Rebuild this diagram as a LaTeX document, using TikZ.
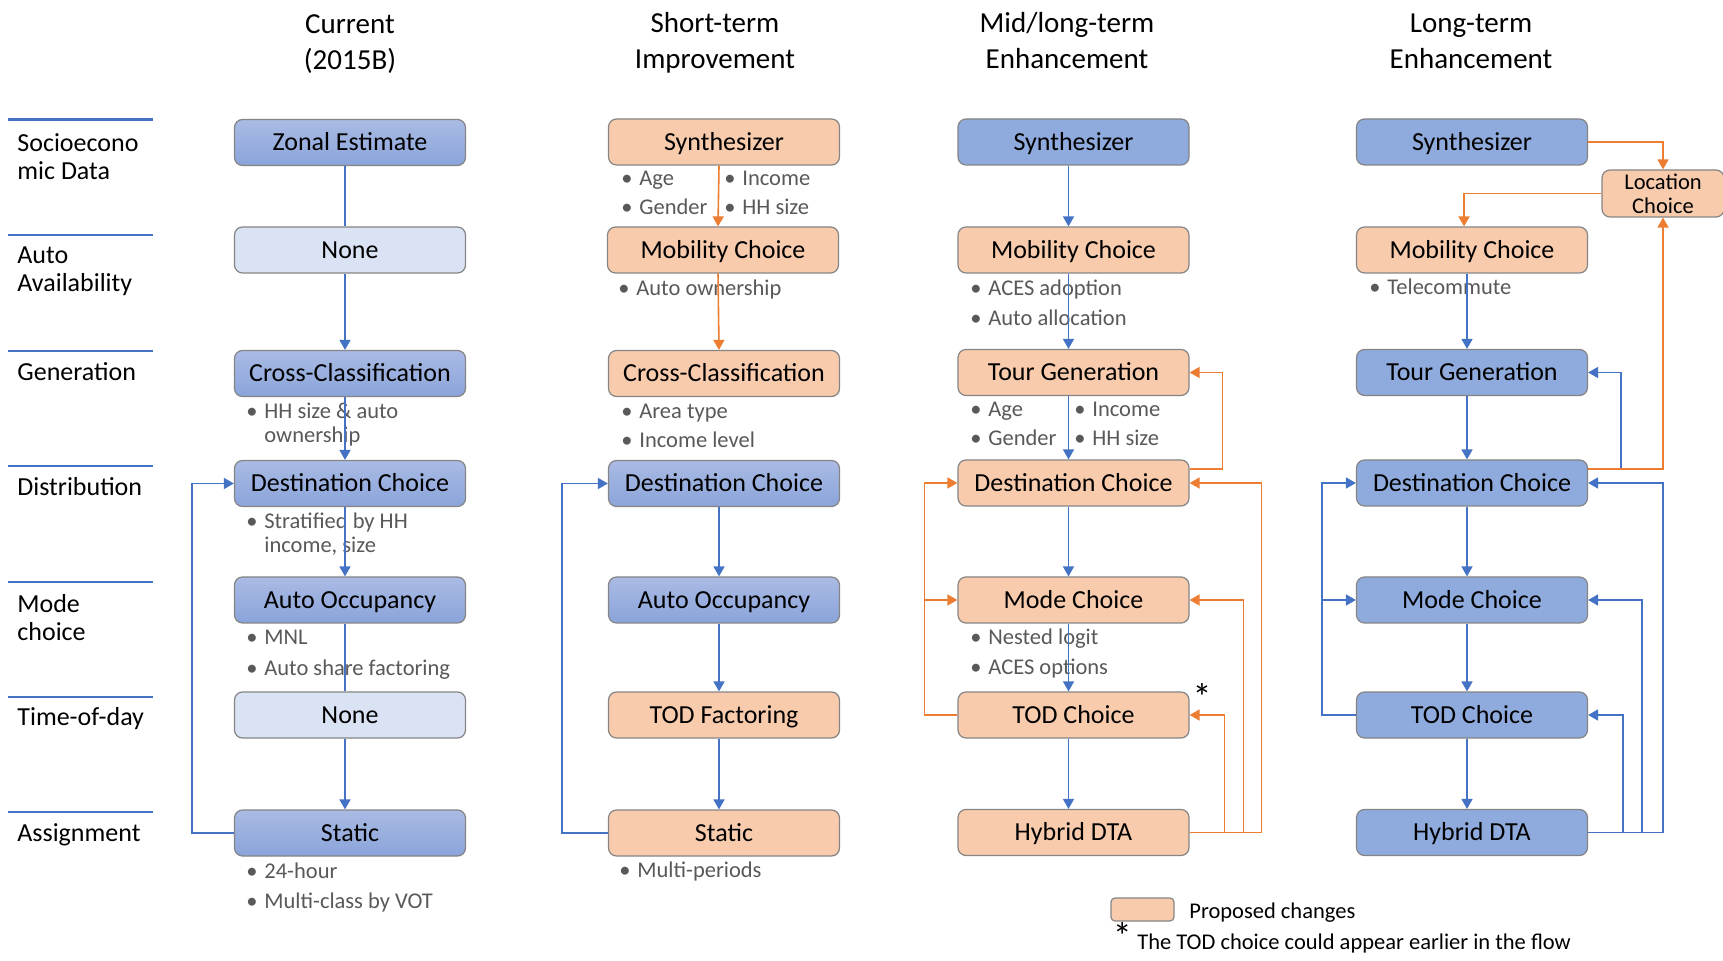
\documentclass[tikz,border=0pt]{standalone}
\usepackage{fontspec}
\setmainfont{Carlito}
\usetikzlibrary{arrows.meta,calc}
\definecolor{lnblue}{HTML}{4472C4}
\definecolor{lnorange}{HTML}{ED7D31}
\definecolor{fillblue}{HTML}{8FAADC}
\definecolor{fillorange}{HTML}{F8CBAD}
\definecolor{fillnone}{HTML}{DAE3F3}
\definecolor{gradtop}{HTML}{AABBE4}
\definecolor{gradbot}{HTML}{8AA4DA}
\definecolor{edge}{HTML}{858585}
\definecolor{bultext}{HTML}{595959}
\newcommand{\blt}[1]{\makebox[9pt][l]{\textbullet}#1}
\newcommand{\vlink}[3]{\draw[#1] ([xshift=-2.5pt]#2.south) -- ([xshift=-2.5pt]#3.north);}
\begin{document}
\begin{tikzpicture}[x=0.5pt,y=-0.5pt,
  box/.style={rectangle, rounded corners=4pt, draw=edge, line width=0.6pt,
    minimum width=115.5pt, minimum height=23pt, inner sep=0pt,
    font=\fontsize{13}{15}\selectfont, text height=8.4pt, text depth=0pt},
  bluebox/.style={box, fill=fillblue},
  gradbox/.style={box, top color=gradtop, bottom color=gradbot},
  orangebox/.style={box, fill=fillorange},
  nonebox/.style={box, fill=fillnone},
  bul/.style={anchor=west, inner sep=0pt, font=\fontsize{11.25}{13}\selectfont,
    text=bultext, text height=7.2pt, text depth=0pt},
  hdr/.style={align=center, inner sep=0pt, font=\fontsize{14.5}{18}\selectfont},
  rowlab/.style={anchor=west, inner sep=0pt, font=\fontsize{13}{14}\selectfont,
    text height=8.4pt, text depth=0pt},
  rowlabtwo/.style={anchor=west, align=left, inner sep=0pt, font=\fontsize{13}{14}\selectfont},
  sepline/.style={lnblue, line width=1.2pt},
  bline/.style={lnblue, line width=0.8pt},
  oline/.style={lnorange, line width=0.8pt},
  barrow/.style={bline, -{Triangle[width=5.5pt,length=5pt]}},
  oarrow/.style={oline, -{Triangle[width=5.5pt,length=5pt]}},
  star/.style={anchor=base, inner sep=0pt, font=\fontsize{19}{21}\selectfont}
]
\fill[white] (0,0) rectangle (1723,961);
\useasboundingbox (0,0) rectangle (1723,961);

% column headings
\node[hdr] (h1) at (350,44) {Current\\(2015B)};
\node[hdr] (h2) at (715,43) {Short-term\\Improvement};
\node[hdr] (h3) at (1067,41) {Mid/long-term\\Enhancement};
\node[hdr] (h4) at (1471,41) {Long-term\\Enhancement};

% row separators and labels
\foreach \yy in {119.5,235,351,466,582,697,812}
  \draw[sepline] (8,\yy) -- (153,\yy);
\node[rowlabtwo] (l1) at (17,157) {Socioecono\\mic Data};
\node[rowlabtwo] (l2) at (17,271.5) {Auto\\Availability};
\node[rowlab] (l3) at (17,372) {Generation};
\node[rowlab] (l4) at (17,487) {Distribution};
\node[rowlabtwo] (l5) at (17,618) {Mode\\choice};
\node[rowlab] (l6) at (17,717) {Time-of-day};
\node[rowlab] (l7) at (17,833.5) {Assignment};

% column 1: current model
\node[gradbox] (zo1) at (350,142.5) {Zonal Estimate};
\node[nonebox] (na1) at (350,250) {None};
\node[gradbox] (cc1) at (350,373.5) {Cross-Classification};
\node[gradbox] (dc1) at (350,483.5) {Destination Choice};
\node[gradbox] (ao1) at (350,600) {Auto Occupancy};
\node[nonebox] (tn1) at (350,715) {None};
\node[gradbox] (st1) at (350,833) {Static};

% column 2: short-term improvement
\node[orangebox] (sy2) at (724,142) {Synthesizer};
\node[orangebox] (mc2) at (723,250) {Mobility Choice};
\node[orangebox] (cc2) at (724,373.5) {Cross-Classification};
\node[gradbox] (dc2) at (724,483.5) {Destination Choice};
\node[gradbox] (ao2) at (724,600) {Auto Occupancy};
\node[orangebox] (tf2) at (724,715) {TOD Factoring};
\node[orangebox] (st2) at (724,833) {Static};

% column 3: mid/long-term enhancement
\node[bluebox] (sy3) at (1073.5,142) {Synthesizer};
\node[orangebox] (mb3) at (1073.5,250) {Mobility Choice};
\node[orangebox] (tg3) at (1073.5,372.5) {Tour Generation};
\node[orangebox] (dc3) at (1073.5,483) {Destination Choice};
\node[orangebox] (md3) at (1073.5,600) {Mode Choice};
\node[orangebox] (td3) at (1073.5,715) {TOD Choice};
\node[orangebox] (hy3) at (1073.5,832.5) {Hybrid DTA};
\node[star] (st3) at (1202,711) {*};

% column 4: long-term enhancement
\node[bluebox] (sy4) at (1472,142) {Synthesizer};
\node[box, fill=fillorange, minimum width=61pt, minimum height=23.5pt, align=center,
  font=\fontsize{11.25}{12}\selectfont, text height=, text depth=] (loc) at (1663,193.5) {Location\\Choice};
\node[orangebox] (mb4) at (1472,250) {Mobility Choice};
\node[bluebox] (tg4) at (1472,372.5) {Tour Generation};
\node[bluebox] (dc4) at (1472,483) {Destination Choice};
\node[bluebox] (md4) at (1472,600) {Mode Choice};
\node[bluebox] (td4) at (1472,715) {TOD Choice};
\node[bluebox] (hy4) at (1472,832.5) {Hybrid DTA};

% attribute bullets
\node[bul] (b1) at (246,411) {\blt{HH size \& auto}};
\node[bul] (b2) at (264,435) {ownership};
\node[bul] (b3) at (246,521) {\blt{Stratified by HH}};
\node[bul] (b4) at (264,545) {income, size};
\node[bul] (b5) at (246,637) {\blt{MNL}};
\node[bul] (b6) at (246,668) {\blt{Auto share factoring}};
\node[bul] (b7) at (246,871) {\blt{24-hour}};
\node[bul] (b8) at (246,901) {\blt{Multi-class by VOT}};

\node[bul] (b9) at (621,178) {\blt{Age}};
\node[bul] (b10) at (621,207) {\blt{Gender}};
\node[bul] (b11) at (724,178) {\blt{Income}};
\node[bul] (b12) at (724,207) {\blt{HH size}};
\node[bul] (b13) at (618,288) {\blt{Auto ownership}};
\node[bul] (b14) at (621,411) {\blt{Area type}};
\node[bul] (b15) at (621,440) {\blt{Income level}};
\node[bul] (b16) at (619,870) {\blt{Multi-periods}};

\node[bul] (b17) at (970,288) {\blt{ACES adoption}};
\node[bul] (b18) at (970,318) {\blt{Auto allocation}};
\node[bul] (b19) at (970,409) {\blt{Age}};
\node[bul] (b20) at (970,438) {\blt{Gender}};
\node[bul] (b21) at (1074,409) {\blt{Income}};
\node[bul] (b22) at (1074,438) {\blt{HH size}};
\node[bul] (b23) at (970,637) {\blt{Nested logit}};
\node[bul] (b24) at (970,667) {\blt{ACES options}};

\node[bul] (b25) at (1369,287) {\blt{Telecommute}};

% column 1 flow
\vlink{bline}{zo1}{na1}
\vlink{barrow}{na1}{cc1}
\vlink{barrow}{cc1}{dc1}
\vlink{barrow}{dc1}{ao1}
\vlink{bline}{ao1}{tn1}
\vlink{barrow}{tn1}{st1}
\draw[barrow] (st1.west) -- ++(-42,0) |- (dc1.west);

% column 2 flow
\vlink{oarrow}{sy2}{mc2}
\vlink{oarrow}{mc2}{cc2}
\vlink{barrow}{dc2}{ao2}
\vlink{barrow}{ao2}{tf2}
\vlink{barrow}{tf2}{st2}
\draw[barrow] (st2.west) -- ++(-46,0) |- (dc2.west);

% column 3 flow
\vlink{barrow}{sy3}{mb3}
\vlink{barrow}{mb3}{tg3}
\vlink{barrow}{tg3}{dc3}
\vlink{barrow}{dc3}{md3}
\vlink{barrow}{md3}{td3}
\vlink{barrow}{td3}{hy3}
\draw[oarrow] ([yshift=7pt]dc3.east) -- ++(33,0) |- (tg3.east);
\draw[oarrow] (hy3.east) -- ++(72,0) |- (dc3.east);
\draw[oarrow] (hy3.east) -- ++(54,0) |- (md3.east);
\draw[oarrow] (hy3.east) -- ++(35,0) |- (td3.east);
\coordinate (fb3) at ($(td3.west)+(-33,0)$);
\draw[oarrow] (td3.west) -- (fb3) |- (dc3.west);
\draw[oarrow] (fb3 |- md3.west) -- (md3.west);

% column 4 flow
\vlink{barrow}{mb4}{tg4}
\vlink{barrow}{tg4}{dc4}
\vlink{barrow}{dc4}{md4}
\vlink{barrow}{md4}{td4}
\vlink{barrow}{td4}{hy4}
\draw[barrow] ([yshift=7pt]dc4.east) -- ++(33,0) |- (tg4.east);
\draw[barrow] (hy4.east) -- ++(75,0) |- (dc4.east);
\draw[barrow] (hy4.east) -- ++(54,0) |- (md4.east);
\draw[barrow] (hy4.east) -- ++(35,0) |- (td4.east);
\coordinate (fb4) at ($(td4.west)+(-34,0)$);
\draw[barrow] (td4.west) -- (fb4) |- (dc4.west);
\draw[barrow] (fb4 |- md4.west) -- (md4.west);
\draw[oarrow] (sy4.east) -| (loc.north);
\draw[oarrow] (loc.west) -| ([xshift=-4pt]mb4.north);
\draw[oarrow] ([yshift=7pt]dc4.east) -| (loc.south);

% legend
\node[box, fill=fillorange, minimum width=31.5pt, minimum height=11.5pt, rounded corners=2pt] (leg) at (1142.5,909.5) {};
\node[bul, text=black] (legt) at (1189,911) {Proposed changes};
\node[bul, text=black] (note) at (1112.5,942)
  {{\fontsize{19}{21}\selectfont *}\hspace{2.75pt}The TOD choice could appear earlier in the flow};
\end{tikzpicture}
\end{document}
